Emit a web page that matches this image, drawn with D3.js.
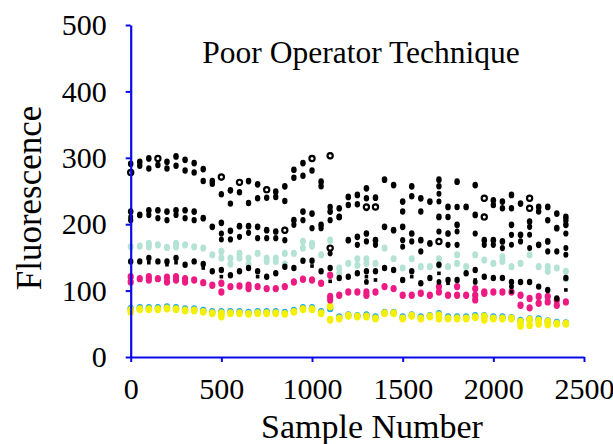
<!DOCTYPE html>
<html>
<head>
<meta charset="utf-8">
<script src="https://cdn.jsdelivr.net/npm/d3@7"></script>
<style>
  body { margin: 0; background: #fff; }
  text { font-family: "Liberation Serif", "Times New Roman", serif; fill: #000; }
</style>
</head>
<body>
<svg width="613" height="444"></svg>
<script>
// sample numbers of each measuring group
const samples = [0, 50, 100, 150, 200, 250, 300, 350, 400, 450, 500, 550, 600, 650, 700, 750, 800, 850, 900, 950,
  1000, 1050, 1100, 1150, 1200, 1250, 1300, 1350, 1400, 1450, 1500, 1550, 1600, 1650, 1700, 1750, 1800, 1850, 1900, 1950,
  2000, 2050, 2100, 2150, 2200, 2250, 2300, 2350, 2400];

const xTicks = [0, 500, 1000, 1500, 2000, 2500];
const yTicks = [0, 100, 200, 300, 400, 500];

// fluorescence readings (null = no reading)
const blackHiA = [291, 294, 299, 299, 294, 302, 297, 292, 283, 265, 271, 251, 263, 265, 260, 252, 249, 257, 282, 292,
  299, 264, 303, 224, 241, 244, 254, 240, 267, 259, 234, 257, 239, 234, 267, 226, 264, 226, 259, 239,
  236, 234, 244, 231, 239, 226, 226, 216, 211];
const blackHiB = [278, 288, 284, 289, 284, 288, 281, 278, 265, 261, 245, 231, 248, 232, 239, 240, 241, 235, 270, 273,
  281, 257, 226, 211, 229, 230, 239, 226, null, null, 219, 242, 219, null, 257, 211, 226, null, null, 211,
  229, 224, 224, null, 224, 219, 206, null, 206];
const blackMidA = [219, 214, 221, 221, 219, 221, 221, 219, 209, 196, 202, 190, 197, 197, 196, 191, 189, 191, 206, 219,
  216, 199, 219, 211, 176, 181, 186, 176, 196, 191, 196, 186, 176, 171, 211, 186, 199, null, 214, 176,
  176, 174, 199, 184, 204, 169, 174, 194, 199];
const blackMidB = [206, null, 214, 209, 206, 214, 209, 206, null, null, 186, 177, 181, 187, 179, 179, 179, 176, 199, 206,
  194, 194, 206, null, null, 169, 174, 169, null, null, 176, 174, 159, null, 189, 169, 169, null, 186, 169,
  169, 164, 184, 174, 196, null, 159, 159, 186];
const blackExtra = [211, null, null, null, null, null, null, null, null, null, 177, null, null, null, null, null, null, null, null, null,
  null, null, 164, null, null, null, 224, null, null, null, 166, null, null, null, 246, null, 189, null, null, null,
  null, null, 169, null, 184, null, null, null, 164];
const blackExtra2 = [null, null, null, null, null, null, null, null, null, null, null, null, null, null, null, null, null, null, null, null,
  null, null, 156, null, null, null, null, null, null, null, null, null, null, null, 234, null, null, null, null, null,
  null, null, null, null, 164, null, null, null, 154];
const blackRing = [278, null, null, 299, null, null, null, null, null, null, 271, null, 263, null, null, 252, null, 191, null, null,
  299, null, 303, null, null, null, 226, 226, null, null, null, null, null, null, null, null, null, null, null, 239,
  null, null, null, null, 224, null, null, null, null];
const blackRing2 = [null, null, null, null, null, null, null, null, null, null, null, null, null, null, null, null, null, null, null, null,
  null, null, 164, null, null, null, null, null, null, null, null, null, null, null, 174, null, null, null, null, 211,
  null, null, null, null, 239, null, null, null, null];
const blackLowA = [144, 144, 149, 144, 144, 149, 139, 144, 140, 129, 131, 123, 129, 134, 129, 121, 126, 136, 134, 145,
  145, 129, 134, 119, 121, 126, 129, 129, 134, 131, 116, 129, 111, 119, 139, 116, 116, 126, 131, 121,
  119, 119, 113, 113, 113, 106, 101, 88, 119];
const blackLowB = [null, null, 142, null, 139, 142, null, null, 134, null, 121, null, null, null, 121, null, null, null, null, null,
  137, null, 114, null, null, null, 121, 116, null, null, null, 121, null, null, 126, 111, null, null, 116, null,
  null, null, 98, null, null, null, null, null, 101];
const blackLowC = [null, null, null, null, null, null, null, null, null, null, null, null, null, null, null, null, null, null, null, null,
  null, null, null, null, null, null, 113, null, null, null, null, null, null, null, 113, null, null, null, 113, null,
  null, null, 106, null, null, null, null, null, null];
const tealA = [166, 167, 171, 169, 165, 171, 169, 166, 164, 154, 159, 149, 156, 149, 156, 149, 149, 156, 156, 174,
  171, 154, 176, 134, 141, 148, 148, 141, 164, 148, 134, 148, 136, 136, 148, 136, 154, 136, 154, 146,
  141, 151, 136, 141, 154, 136, 136, 134, 129];
const tealB = [null, null, 166, null, null, 166, null, null, null, null, 149, 140, 149, 140, null, 144, 144, 140, null, 164,
  167, null, null, 126, null, 138, 141, null, null, null, null, null, null, null, 138, null, 141, null, null, null,
  null, 144, null, null, null, null, 129, null, 118];
const pinkA = [121, 118, 121, 118, 120, 121, 118, 116, 112, 108, 111, 106, 107, 108, 106, 103, 103, 106, 113, 117,
  116, 111, 123, 93, 98, 98, 98, 98, 106, 103, 93, 93, 96, 93, 106, 93, 106, 93, 103, 98,
  98, 98, 98, 93, 88, 91, 91, 86, 83];
const pinkB = [113, null, 116, null, 113, 116, 113, null, null, null, 98, null, null, 103, null, null, null, null, null, null,
  null, null, 91, null, null, null, 93, null, null, null, null, null, null, null, 98, null, 93, null, 93, 96,
  null, null, null, 78, 74, 81, 83, 78, null];
const pinkC = [null, null, null, null, null, null, null, null, null, null, null, null, null, null, null, null, null, null, null, null,
  null, null, 86, null, null, null, null, null, null, null, null, null, null, null, null, null, null, null, 86, null,
  null, null, null, null, null, null, null, null, null];
const cyanA = [73, 74, 74, 74, 75, 74, 72, 72, 70, 68, 68, 68, 68, 67, 68, 68, 68, 67, 70, 74,
  74, 68, 73, 60, 63, 62, 63, 60, 67, 67, 60, 63, 60, 62, 65, 60, 60, 60, 62, 62,
  60, 60, 59, 55, 57, 57, 54, 52, 51];
const yellowA = [71, 72, 72, 72, 73, 72, 70, 70, 68, 66, 66, 66, 66, 65, 66, 66, 66, 65, 68, 72,
  72, 66, 76, 58, 62, 61, 61, 58, 66, 66, 58, 62, 58, 61, 63, 58, 58, 58, 60, 61,
  58, 58, 58, 53, 56, 55, 53, 50, 50];
const yellowB = [68, null, null, null, null, null, null, null, null, null, 61, null, null, null, null, null, null, null, null, null,
  null, null, 56, null, null, null, null, null, null, null, null, null, null, null, 58, null, null, null, null, 56,
  null, null, null, 47, 48, 50, 49, null, null];

const svg = d3.select('svg');
const x = d3.scaleLinear().domain([0, 2500]).range([130.7, 584]);
const y = d3.scaleLinear().domain([0, 500]).range([357, 25]);
const axisBlue = '#0a0ae8';

function plot(values, color, shape, r) {
  const pts = values.map(function (v, i) { return { s: samples[i], v: v }; })
    .filter(function (d) { return d.v != null; });
  const g = svg.append('g');
  if (shape == 'square') {
    g.selectAll('rect').data(pts).enter().append('rect')
      .attr('x', function (d) { return x(d.s) - r; })
      .attr('y', function (d) { return y(d.v) - r; })
      .attr('width', r * 2).attr('height', r * 2)
      .attr('fill', color);
  } else if (shape == 'ring') {
    g.selectAll('circle').data(pts).enter().append('circle')
      .attr('cx', function (d) { return x(d.s); })
      .attr('cy', function (d) { return y(d.v); })
      .attr('r', r)
      .attr('fill', '#fff').attr('stroke', color).attr('stroke-width', 2.2);
  } else {
    g.selectAll('ellipse').data(pts).enter().append('ellipse')
      .attr('cx', function (d) { return x(d.s); })
      .attr('cy', function (d) { return y(d.v); })
      .attr('rx', r).attr('ry', r * 1.2)
      .attr('fill', color);
  }
}

plot(tealA, '#b4e2d4', 'dot', 3);
plot(tealB, '#b4e2d4', 'dot', 3);
plot(cyanA, '#1aa8e6', 'dot', 3.2);
plot(yellowA, '#f5f000', 'dot', 3.3);
plot(yellowB, '#f5f000', 'dot', 3.3);
plot(pinkA, '#ec1a82', 'dot', 3.1);
plot(pinkB, '#ec1a82', 'dot', 3.1);
plot(pinkC, '#ec1a82', 'dot', 3.1);
plot(blackHiA, '#000', 'dot', 2.8);
plot(blackHiB, '#000', 'dot', 2.7);
plot(blackMidA, '#000', 'dot', 2.8);
plot(blackMidB, '#000', 'dot', 2.6);
plot(blackExtra, '#000', 'dot', 2.5);
plot(blackExtra2, '#000', 'dot', 2.5);
plot(blackLowA, '#000', 'dot', 2.7);
plot(blackLowB, '#000', 'square', 1.8);
plot(blackLowC, '#000', 'dot', 2.4);
plot(blackRing, '#000', 'ring', 2.6);
plot(blackRing2, '#000', 'ring', 2.6);

// axes
const yAxis = svg.append('g')
  .attr('transform', 'translate(' + x(0) + ',0)')
  .call(d3.axisLeft(y).tickValues(yTicks).tickSize(5).tickSizeOuter(0).tickPadding(19)
    .tickFormat(d3.format('d')));
const xAxis = svg.append('g')
  .attr('transform', 'translate(0,' + y(0) + ')')
  .call(d3.axisBottom(x).tickValues(xTicks).tickSize(5).tickSizeOuter(0).tickPadding(16)
    .tickFormat(d3.format('d')));
[yAxis, xAxis].forEach(function (a) {
  a.select('.domain').attr('stroke', axisBlue).attr('stroke-width', 2.2);
  a.selectAll('.tick line').attr('stroke', axisBlue).attr('stroke-width', 2);
  a.selectAll('.tick text').style('font-size', '30px').attr('fill', '#000')
    .style('font-family', '"Liberation Serif", "Times New Roman", serif');
});

svg.append('text')
  .attr('x', 361).attr('y', 63)
  .attr('text-anchor', 'middle')
  .style('font-size', '31.5px')
  .text('Poor Operator Technique');

svg.append('text')
  .attr('x', 372).attr('y', 438)
  .attr('text-anchor', 'middle')
  .style('font-size', '34px')
  .text('Sample Number');

svg.append('text')
  .attr('transform', 'translate(41,198) rotate(-90)')
  .attr('text-anchor', 'middle')
  .style('font-size', '35px')
  .text('Fluorescence');
</script>
</body>
</html>
